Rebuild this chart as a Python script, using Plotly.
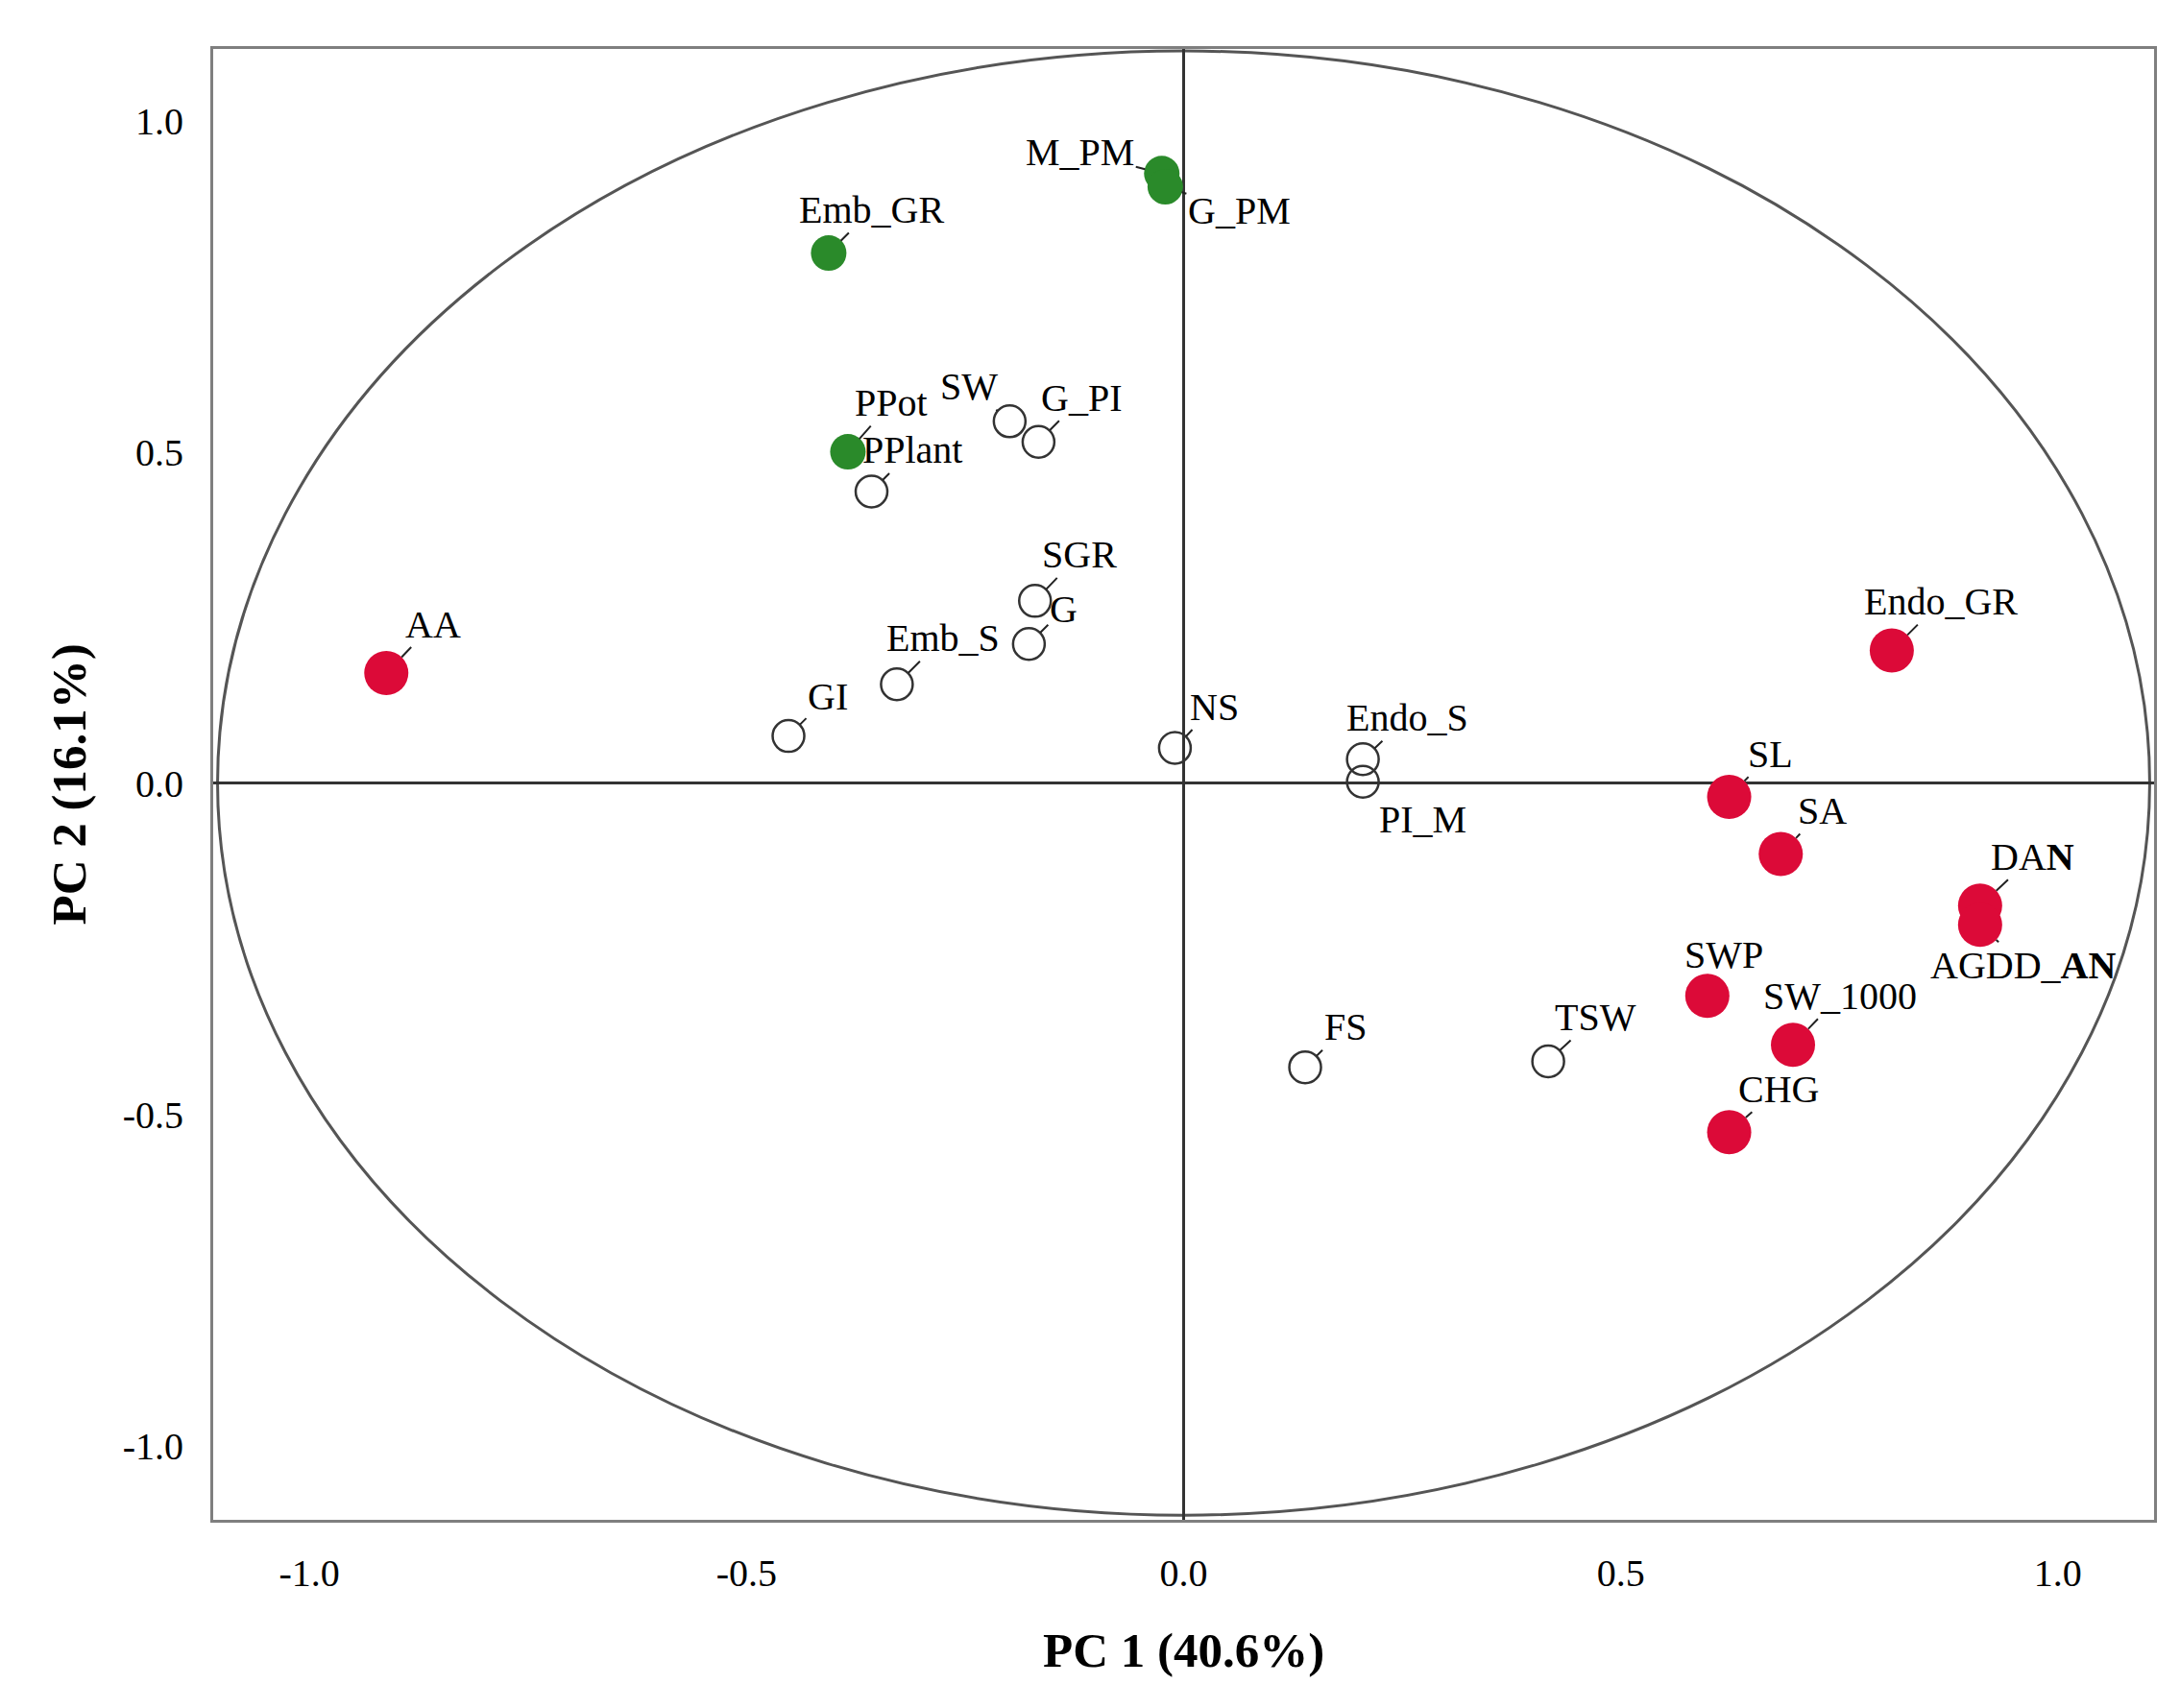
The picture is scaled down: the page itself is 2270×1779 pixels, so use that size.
import plotly.graph_objects as go

# PCA loadings
names = ["M_PM", "G_PM", "Emb_GR", "PPot", "PPlant", "SW", "G_PI", "SGR", "G",
         "Emb_S", "GI", "AA", "NS", "Endo_S", "PI_M", "Endo_GR", "SL", "SA",
         "DAN", "AGDD_AN", "SWP", "SW_1000", "CHG", "TSW", "FS"]
pc1 = [-0.025, -0.021, -0.406, -0.384, -0.357, -0.199, -0.166, -0.170, -0.177,
       -0.328, -0.452, -0.912, -0.010, 0.205, 0.205, 0.810, 0.624, 0.683,
       0.911, 0.911, 0.599, 0.697, 0.624, 0.417, 0.139]
pc2 = [0.920, 0.900, 0.800, 0.500, 0.440, 0.546, 0.515, 0.275, 0.210,
       0.149, 0.071, 0.166, 0.053, 0.036, 0.002, 0.200, -0.021, -0.107,
       -0.185, -0.214, -0.321, -0.395, -0.527, -0.420, -0.429]
group = ["green", "green", "green", "green", "open", "open", "open", "open", "open",
         "open", "open", "red", "open", "open", "open", "red", "red", "red",
         "red", "red", "red", "red", "red", "open", "open"]

# label text offsets in pixels (dx, dy)
label_offsets = {
    "M_PM": (-85, -22), "G_PM": (77, 25), "Emb_GR": (45, -45), "PPot": (45, -51),
    "PPlant": (42, -43), "SW": (-42, -36), "G_PI": (45, -46), "SGR": (46, -48),
    "G": (36, -36), "Emb_S": (48, -48), "GI": (41, -41), "AA": (49, -51),
    "NS": (41, -43), "Endo_S": (46, -43), "PI_M": (62, 39), "Endo_GR": (51, -51),
    "SL": (43, -45), "SA": (43, -45), "DAN": (55, -51), "AGDD_AN": (45, 42),
    "SWP": (17, -43), "SW_1000": (49, -51), "CHG": (51, -45), "TSW": (49, -46),
    "FS": (42, -42),
}
label_text = {"DAN": "DA<b>N</b>", "AGDD_AN": "AGDD_<b>AN</b>"}

styles = {
    "red": dict(size=46, color="#DC0A38", line=dict(width=0)),
    "green": dict(size=37, color="#2A8A2A", line=dict(width=0)),
    "open": dict(size=33, color="rgba(255,255,255,0)", line=dict(width=2.5, color="#333333")),
}
radius = {"red": 23, "green": 18, "open": 17}

FONT = "Liberation Serif"

fig = go.Figure()

# unit circle (slightly larger than 1 as in the original)
fig.add_shape(type="circle", xref="x", yref="y", x0=-1.105, x1=1.105, y0=-1.105, y1=1.105,
              line=dict(color="#555555", width=3), layer="below")

for g in ["open", "green", "red"]:
    idx = [i for i, gg in enumerate(group) if gg == g]
    fig.add_trace(go.Scatter(
        x=[pc1[i] for i in idx], y=[pc2[i] for i in idx],
        mode="markers", marker=styles[g], showlegend=False, hoverinfo="skip"))

for i, n in enumerate(names):
    dx, dy = label_offsets[n]
    fig.add_annotation(x=pc1[i], y=pc2[i], text=label_text.get(n, n),
                       showarrow=True, arrowhead=0, arrowwidth=2, arrowcolor="#222222",
                       ax=dx, ay=dy, standoff=radius[group[i]],
                       font=dict(family=FONT, size=40, color="black"))

# axis titles
fig.add_annotation(x=0.5, y=-0.089, xref="paper", yref="paper", text="<b>PC 1 (40.6%)</b>",
                   xanchor="center", yanchor="middle",
                   showarrow=False, font=dict(family=FONT, size=51, color="black"))
fig.add_annotation(x=-0.074, y=0.5, xref="paper", yref="paper", text="<b>PC 2 (16.1%)</b>",
                   xanchor="center", yanchor="middle",
                   showarrow=False, textangle=-90, font=dict(family=FONT, size=51, color="black"))

axis_common = dict(showgrid=False, zeroline=True, zerolinecolor="#333333", zerolinewidth=2.5,
                   showline=True, mirror=True, linecolor="#7f7f7f", linewidth=3,
                   ticks="", tickfont=dict(family=FONT, size=40, color="black"),
                   tickvals=[-1.0, -0.5, 0.0, 0.5, 1.0],
                   ticktext=["-1.0", "-0.5", "0.0", "0.5", "1.0"])

fig.update_layout(
    width=2270, height=1779,
    margin=dict(l=214, r=35, t=43, b=204),
    plot_bgcolor="white", paper_bgcolor="white",
    xaxis=dict(range=[-1.11, 1.11], ticklabelstandoff=18, **axis_common),
    yaxis=dict(range=[-1.112, 1.108], ticklabelstandoff=20, **axis_common),
    font=dict(family=FONT),
)

fig.write_html("out.html")
